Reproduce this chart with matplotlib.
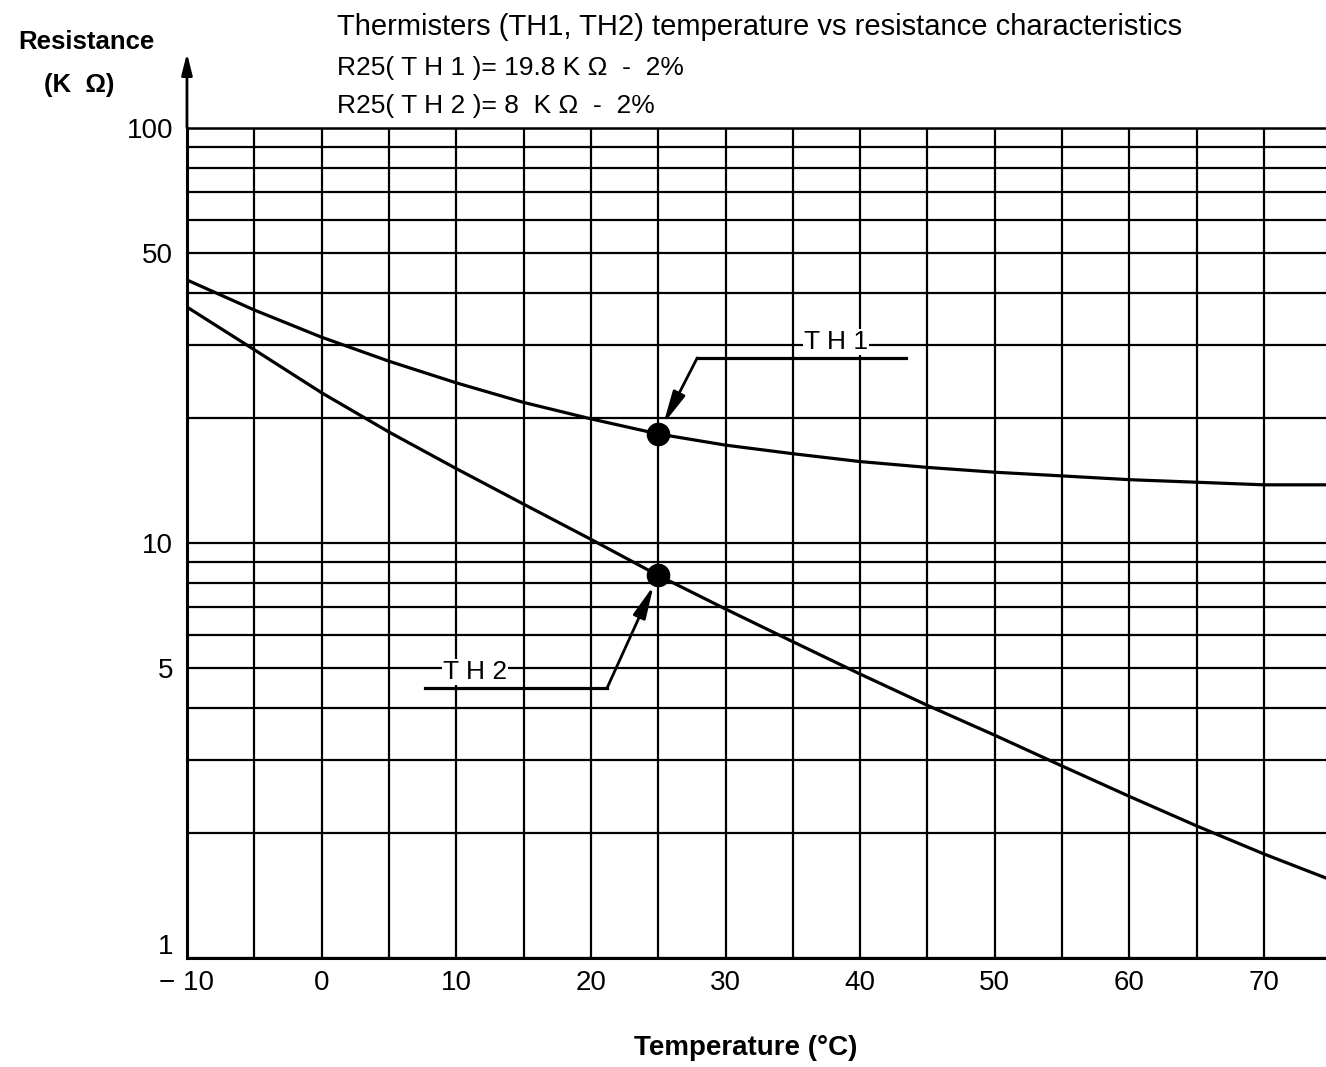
import matplotlib
matplotlib.use('Agg')
import matplotlib.pyplot as plt
import matplotlib.transforms as mtransforms

# thermistor curves, read every 5 degC
temps = [-10, -5, 0, 5, 10, 15, 20, 25, 30, 35, 40, 45, 50, 55, 60, 65, 70, 75]
th1 = [43.0, 36.4, 31.3, 27.4, 24.3, 21.8, 19.9, 18.3, 17.2, 16.4, 15.7, 15.2,
       14.8, 14.5, 14.2, 14.0, 13.8, 13.8]
th2 = [37.0, 29.2, 23.0, 18.5, 15.1, 12.4, 10.2, 8.35, 6.93, 5.78, 4.83, 4.06,
       3.44, 2.90, 2.45, 2.08, 1.78, 1.54]

x_ticks = [-10, 0, 10, 20, 30, 40, 50, 60, 70]
x_labels = ['\u2212 10', '0', '10', '20', '30', '40', '50', '60', '70']
y_ticks = [1, 5, 10, 50, 100]
y_labels = ['1', '5', '10', '50', '100']
y_minor = [2, 3, 4, 6, 7, 8, 9, 20, 30, 40, 60, 70, 80, 90]

SANS = ['Liberation Sans', 'DejaVu Sans']

fig = plt.figure(figsize=(13.26, 10.67), dpi=100)
ax = fig.add_axes([0.141, 0.1022, 0.859, 0.778])

ax.set_yscale('log')
ax.set_xlim(-10, 74.6)
ax.set_ylim(1, 100)

ax.set_xticks(x_ticks)
ax.set_xticks(list(range(-5, 75, 10)), minor=True)
ax.set_xticklabels(x_labels, family=SANS, fontsize=20)
ax.set_yticks(y_ticks)
ax.set_yticks(y_minor, minor=True)
ax.set_yticklabels(y_labels, family=SANS, fontsize=20)
ax.yaxis.set_minor_formatter(plt.NullFormatter())
ax.tick_params(which='both', length=0)
ax.tick_params(axis='x', pad=9)
ax.tick_params(axis='y', pad=10)

# lift the "1" above the bottom line so it clears "-10"
one = ax.get_yticklabels()[0]
one.set_transform(one.get_transform() +
                  mtransforms.ScaledTranslation(0, 10 / 72, fig.dpi_scale_trans))

ax.grid(True, which='both', color='black', linewidth=1.6)
ax.set_axisbelow(True)

ax.spines['right'].set_visible(False)
ax.spines['top'].set_linewidth(1.8)
ax.spines['left'].set_linewidth(2.2)
ax.spines['bottom'].set_linewidth(2.2)

# curves
ax.plot(temps, th1, color='black', linewidth=2.3, zorder=3)
ax.plot(temps, th2, color='black', linewidth=2.3, zorder=3)

# R25 points
i25 = temps.index(25)
ax.plot([25], [th1[i25]], 'o', color='black', markersize=16, zorder=4)
ax.plot([25], [th2[i25]], 'o', color='black', markersize=16, zorder=4)

arrow = dict(arrowstyle='-|>,head_length=1.1,head_width=0.22', color='black',
             lw=2, shrinkA=0, shrinkB=8, mutation_scale=18)

# TH1 callout
ax.plot([27.9, 43.4], [27.9, 27.9], color='black', linewidth=2.3, zorder=3)
ax.annotate('', xy=(25, th1[i25]), xytext=(27.9, 27.9), arrowprops=arrow, zorder=4)
ax.text(38.2, 30.5, 'T H 1', family=SANS, fontsize=19, ha='center', va='center',
        bbox=dict(facecolor='white', edgecolor='none', pad=1), zorder=3)

# TH2 callout
ax.plot([7.7, 21.2], [4.47, 4.47], color='black', linewidth=2.3, zorder=3)
ax.annotate('', xy=(25, th2[i25]), xytext=(21.2, 4.47), arrowprops=arrow, zorder=4)
ax.text(11.4, 4.89, 'T H 2', family=SANS, fontsize=19, ha='center', va='center',
        bbox=dict(facecolor='white', edgecolor='none', pad=1), zorder=3)

# arrow on the resistance axis
ax.annotate('', xy=(0, 1.09), xytext=(0, 1.0), xycoords='axes fraction',
            textcoords='axes fraction', annotation_clip=False,
            arrowprops=dict(arrowstyle='-|>,head_length=0.8,head_width=0.2',
                            color='black', lw=2, shrinkA=0, shrinkB=0,
                            mutation_scale=16))

# titles and axis names
fig.text(0.065, 0.961, 'Resistance', family=SANS, fontsize=18.5, weight='bold',
         ha='center', va='center')
fig.text(0.060, 0.920, '(K  \u03a9)', family=SANS, fontsize=18.5, weight='bold',
         ha='center', va='center')
fig.text(0.254, 0.975, 'Thermisters (TH1, TH2) temperature vs resistance characteristics',
         family=SANS, fontsize=21, ha='left', va='center')
fig.text(0.254, 0.936, 'R25( T H 1 )= 19.8 K \u03a9  -  2%', family=SANS, fontsize=19,
         ha='left', va='center')
fig.text(0.254, 0.901, 'R25( T H 2 )= 8  K \u03a9  -  2%', family=SANS, fontsize=19,
         ha='left', va='center')
fig.text(0.562, 0.018, 'Temperature (\u00b0C)', family=SANS, fontsize=20,
         weight='bold', ha='center', va='center')

fig.savefig('out.png', dpi=100, facecolor='white')
